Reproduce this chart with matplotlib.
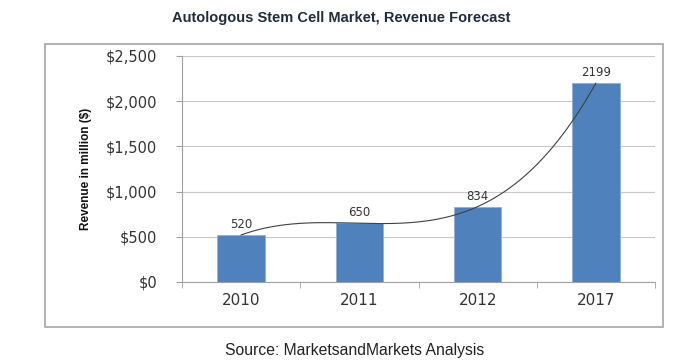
import numpy as np
import matplotlib
matplotlib.use("Agg")
import matplotlib.pyplot as plt
from matplotlib.patches import Rectangle

# data
years = ["2010", "2011", "2012", "2017"]
revenue = [520, 650, 834, 2199]
y_ticks = [0, 500, 1000, 1500, 2000, 2500]
y_tick_labels = ["$0", "$500", "$1,000", "$1,500", "$2,000", "$2,500"]

plt.rcParams["font.family"] = ["Liberation Sans", "DejaVu Sans"]
wide = ["DejaVu Sans"]

fig = plt.figure(figsize=(6.83, 3.64), dpi=100)
fig.patch.set_facecolor("white")

# outer chart frame
fig.patches.append(Rectangle((45 / 683, 1 - 327 / 364), 618 / 683, 283 / 364,
                             transform=fig.transFigure, fill=False,
                             edgecolor="#a6a6a6", linewidth=1.2))

ax = fig.add_axes([182 / 683, 1 - 282 / 364, 473 / 683, 226 / 364])

x = np.arange(len(years))
ax.bar(x, revenue, width=0.4, color="#4f81bd", edgecolor="#8fb0d8",
       linewidth=0.6, zorder=2)

for xi, v in zip(x, revenue):
    ax.text(xi, v + 45, str(v), ha="center", va="bottom", fontsize=8.5,
            family=wide, color="#333333", zorder=4)

# polynomial trend line (order 3, like the Excel trendline)
coef = np.polyfit(x, revenue, 3)
xs = np.linspace(x[0], x[-1], 200)
ax.plot(xs, np.polyval(coef, xs), color="#404040", linewidth=0.8, zorder=3)

ax.set_xlim(-0.5, len(years) - 0.5)
ax.set_ylim(0, 2500)
ax.set_yticks(y_ticks)
ax.set_yticklabels(y_tick_labels, fontsize=10.5, family=wide, color="#333333")
ax.set_xticks(x)
ax.set_xticklabels(years, fontsize=11, family=wide, color="#333333")
ax.set_xticks(np.arange(-0.5, len(years)), minor=True)
ax.tick_params(axis="x", which="major", length=0, pad=8)
ax.tick_params(axis="x", which="minor", length=4, color="#a0a0a0")
ax.tick_params(axis="y", length=4, color="#a0a0a0", pad=14)

ax.yaxis.grid(True, color="#c8c8c8", linewidth=0.8, zorder=0)
ax.set_axisbelow(True)
for side in ["top", "right"]:
    ax.spines[side].set_visible(False)
ax.spines["left"].set_color("#a0a0a0")
ax.spines["bottom"].set_color("#a0a0a0")

ax.set_ylabel("Revenue in million ($)", fontsize=8.5, fontweight="bold",
              family=["Liberation Sans Narrow", "Liberation Sans", "DejaVu Sans"],
              color="#111111")
ax.yaxis.set_label_coords(-0.19, 0.5)

fig.text(341 / 683, 1 - 18 / 364, "Autologous Stem Cell Market, Revenue Forecast",
         ha="center", va="center", fontsize=10.5, fontweight="bold",
         color="#1f2d3d")
fig.text(355 / 683, 1 - 350 / 364, "Source: MarketsandMarkets Analysis",
         ha="center", va="center", fontsize=11.3, color="#222222")

fig.savefig("out.png", dpi=100)
